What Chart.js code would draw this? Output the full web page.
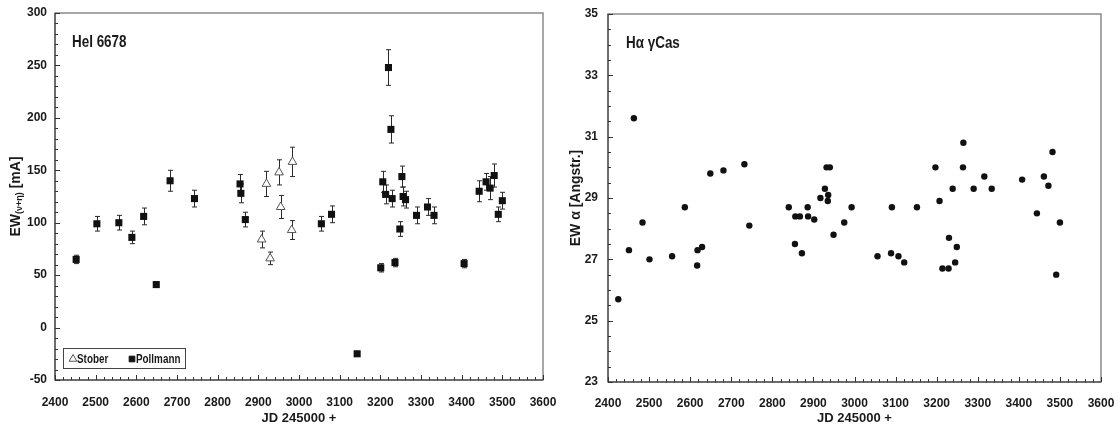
<!DOCTYPE html>
<html>
<head>
<meta charset="utf-8">
<title>HeI 6678 / H-alpha gamma Cas</title>
<script src="https://cdn.jsdelivr.net/npm/chart.js@4.4.1/dist/chart.umd.min.js"></script>
<style>
    body { margin: 0; background: #fff; }
    .panel { position: absolute; top: 0; width: 560px; height: 439px; }
</style>
</head>
<body>
<div class="panel" style="left:0"><canvas id="heChart"></canvas></div>
<div class="panel" style="left:560px"><canvas id="haChart"></canvas></div>
<script>
// HeI 6678 equivalent width, Pollmann series (JD - 2450000, mA, error)
var pollJD  = [2452, 2503, 2557, 2589, 2618, 2649, 2683, 2743, 2855, 2857, 2868, 3055, 3080, 3143,
               3201, 3206, 3213, 3220, 3226, 3229, 3236, 3248, 3253, 3256, 3262, 3289, 3316, 3332,
               3406, 3443, 3460, 3470, 3480, 3490, 3500];
var pollEW  = [65, 99, 100, 86, 106, 41, 140, 123, 137, 128, 103, 99, 108, -25,
               57, 139, 127, 248, 189, 123, 62, 94, 144, 125, 122, 107, 115, 107,
               61, 130, 139, 133, 145, 108, 121];
var pollErr = [4, 7, 7, 6, 8, 2, 10, 8, 9, 9, 7, 7, 8, 2,
               4, 10, 9, 17, 13, 8, 4, 7, 10, 9, 8, 8, 8, 8,
               4, 10, 8, 11, 11, 7, 8];

// HeI 6678, Stober series
var stobJD  = [2908, 2920, 2929, 2951, 2955, 2982, 2984];
var stobEW  = [84, 137, 66, 148, 115, 93, 158];
var stobErr = [8, 12, 6, 12, 11, 9, 14];

// H-alpha equivalent width, gamma Cas (Angstrom)
var haJD = [2425, 2451, 2463, 2484, 2501, 2556, 2587, 2617, 2618, 2629, 2649, 2681, 2732, 2744,
            2840, 2855, 2856, 2867, 2872, 2886, 2887, 2902, 2917, 2928, 2932, 2935, 2936, 2940,
            2949, 2975, 2993, 3056, 3089, 3091, 3107, 3121, 3152, 3197, 3207, 3214, 3229, 3230,
            3239, 3245, 3249, 3264, 3265, 3290, 3316, 3334, 3408, 3444, 3461, 3472, 3482, 3491, 3500];
var haEW = [25.7, 27.3, 31.6, 28.2, 27.0, 27.1, 28.7, 26.8, 27.3, 27.4, 29.8, 29.9, 30.1, 28.1,
            28.7, 27.5, 28.4, 28.4, 27.2, 28.7, 28.4, 28.3, 29.0, 29.3, 30.0, 28.9, 29.1, 30.0,
            27.8, 28.2, 28.7, 27.1, 27.2, 28.7, 27.1, 26.9, 28.7, 30.0, 28.9, 26.7, 26.7, 27.7,
            29.3, 26.9, 27.4, 30.0, 30.8, 29.3, 29.7, 29.3, 29.6, 28.5, 29.7, 29.4, 30.5, 26.5, 28.2];

// axis ranges: [min, max, major step, minor step]
var jdAxis = [2400, 3600, 100, 20];
var heAxis = [-50, 300, 50, 10];
var haAxis = [23, 35, 2, 0.5];

function points(xs, ys) {
    return xs.map(function (x, i) { return { x: x, y: ys[i] }; });
}

Chart.defaults.font.family = "'Liberation Sans', Arial, sans-serif";
Chart.defaults.font.size = 12;
Chart.defaults.font.weight = 'bold';
Chart.defaults.color = '#1a1a1a';

// draws text squeezed horizontally, like a narrow face
function narrowText(ctx, text, x, y, squeeze) {
    ctx.save();
    ctx.translate(x, y);
    ctx.scale(squeeze, 1);
    ctx.fillText(text, 0, 0);
    ctx.restore();
}

// plot frame plus the small inward tick marks
var framePlugin = {
    id: 'frame',
    afterDraw: function (chart, args, opts) {
        var ctx = chart.ctx, a = chart.chartArea;
        var xs = chart.scales.x, ys = chart.scales.y;
        ctx.save();
        ctx.strokeStyle = '#8a8a8a';
        ctx.lineWidth = 1.5;
        ctx.strokeRect(a.left, a.top, a.right - a.left, a.bottom - a.top);
        ctx.strokeStyle = '#333';
        ctx.lineWidth = 1;
        ctx.beginPath();
        ctx.moveTo(a.left, a.top); ctx.lineTo(a.left, a.bottom); ctx.lineTo(a.right, a.bottom);
        var n = Math.round((opts.x[1] - opts.x[0]) / opts.x[3]);
        var per = Math.round(opts.x[2] / opts.x[3]);
        for (var i = 0; i <= n; i++) {
            var px = Math.round(xs.getPixelForValue(opts.x[0] + i * opts.x[3])) + 0.5;
            ctx.moveTo(px, a.bottom);
            ctx.lineTo(px, a.bottom - (i % per === 0 ? 5 : 3));
        }
        n = Math.round((opts.y[1] - opts.y[0]) / opts.y[3]);
        per = Math.round(opts.y[2] / opts.y[3]);
        for (i = 0; i <= n; i++) {
            var py = Math.round(ys.getPixelForValue(opts.y[0] + i * opts.y[3])) + 0.5;
            ctx.moveTo(a.left, py);
            ctx.lineTo(a.left + (i % per === 0 ? 5 : 3), py);
        }
        ctx.stroke();
        ctx.restore();
    }
};

// vertical error bars with caps, taken from dataset.errors
var errorBarPlugin = {
    id: 'errorBars',
    beforeDatasetsDraw: function (chart) {
        var ctx = chart.ctx, ys = chart.scales.y;
        ctx.save();
        ctx.strokeStyle = '#2a2a2a';
        ctx.lineWidth = 1;
        chart.data.datasets.forEach(function (ds, i) {
            if (!ds.errors) return;
            chart.getDatasetMeta(i).data.forEach(function (pt, j) {
                var v = ds.data[j].y, e = ds.errors[j];
                var t = ys.getPixelForValue(v + e), b = ys.getPixelForValue(v - e);
                var x = Math.round(pt.x) + 0.5;
                ctx.beginPath();
                ctx.moveTo(x, t); ctx.lineTo(x, b);
                ctx.moveTo(x - 2.5, t); ctx.lineTo(x + 2.5, t);
                ctx.moveTo(x - 2.5, b); ctx.lineTo(x + 2.5, b);
                ctx.stroke();
            });
        });
        ctx.restore();
    }
};

// line name in the top left corner of the plot
var labelPlugin = {
    id: 'lineLabel',
    afterDraw: function (chart, args, opts) {
        var ctx = chart.ctx, a = chart.chartArea;
        ctx.save();
        ctx.font = "bold 16px 'Liberation Sans', Arial";
        ctx.fillStyle = '#1a1a1a';
        ctx.textBaseline = 'middle';
        narrowText(ctx, opts.text, a.left + opts.dx, a.top + 30, 0.84);
        ctx.restore();
    }
};

// y axis title, with an optional subscript part
var yTitlePlugin = {
    id: 'yTitle',
    afterDraw: function (chart, args, opts) {
        var ctx = chart.ctx, a = chart.chartArea;
        var big = "bold 14px 'Liberation Sans', Arial";
        var small = "bold 9px 'Liberation Sans', Arial";
        var parts = opts.parts;
        ctx.save();
        var total = 0;
        parts.forEach(function (p) { ctx.font = p[1] ? small : big; total += ctx.measureText(p[0]).width; });
        ctx.translate(15, (a.top + a.bottom) / 2);
        ctx.rotate(-Math.PI / 2);
        ctx.fillStyle = '#1a1a1a';
        ctx.textBaseline = 'alphabetic';
        var x = -total / 2;
        parts.forEach(function (p) {
            ctx.font = p[1] ? small : big;
            ctx.fillText(p[0], x, p[1] ? 7 : 5);
            x += ctx.measureText(p[0]).width;
        });
        ctx.restore();
    }
};

// boxed legend inside the lower left of the plot
var boxLegendPlugin = {
    id: 'boxLegend',
    afterDraw: function (chart) {
        var ctx = chart.ctx, a = chart.chartArea;
        var left = a.left + 8, top = a.bottom - 32, w = 122, h = 20;
        ctx.save();
        ctx.fillStyle = '#fff';
        ctx.fillRect(left, top, w, h);
        ctx.strokeStyle = '#444';
        ctx.lineWidth = 1;
        ctx.strokeRect(left + 0.5, top + 0.5, w, h);
        ctx.font = "bold 13px 'Liberation Sans', Arial";
        ctx.textBaseline = 'middle';
        var x = left + 10, cy = top + h / 2 + 1;
        chart.data.datasets.forEach(function (ds) {
            ctx.fillStyle = ds.backgroundColor;
            ctx.strokeStyle = ds.borderColor;
            ctx.lineWidth = 1;
            Chart.helpers.drawPoint(ctx, {
                pointStyle: ds.pointStyle, radius: ds.pointStyle === 'rect' ? 4 : 4.5, borderWidth: 1
            }, x, cy);
            ctx.fillStyle = '#1a1a1a';
            narrowText(ctx, ds.label, x + 4, cy, 0.76);
            x += 59;
        });
        ctx.restore();
    }
};

function axis(range, fitSize, isX, tickPad) {
    return {
        type: 'linear',
        min: range[0],
        max: range[1],
        grid: { display: false, drawTicks: false },
        border: { display: false },
        ticks: {
            stepSize: range[2],
            padding: tickPad,
            color: '#1a1a1a',
            callback: function (v) { return String(v); }
        },
        // fixed axis sizes; end labels may overhang the frame without shrinking it
        afterFit: function (scale) {
            if (isX) {
                scale.height = fitSize;
                scale.paddingLeft = 0;
                scale.paddingRight = 0;
            } else {
                scale.width = fitSize;
                scale.paddingTop = 0;
                scale.paddingBottom = 0;
            }
        }
    };
}

var heChart = new Chart(document.getElementById('heChart'), {
    type: 'scatter',
    data: {
        datasets: [{
            label: 'Stober',
            data: points(stobJD, stobEW),
            errors: stobErr,
            pointStyle: 'triangle',
            pointRadius: 5,
            backgroundColor: '#fff',
            borderColor: '#555',
            borderWidth: 1
        }, {
            label: 'Pollmann',
            data: points(pollJD, pollEW),
            errors: pollErr,
            pointStyle: 'rect',
            pointRadius: 5,
            backgroundColor: '#111',
            borderColor: '#111',
            borderWidth: 0
        }]
    },
    options: {
        animation: false,
        responsive: true,
        maintainAspectRatio: false,
        layout: { padding: { top: 13, right: 17, left: 0, bottom: 0 } },
        scales: {
            x: Object.assign(axis(jdAxis, 59, true, 15), {
                title: { display: true, text: 'JD 245000 +', padding: { top: 0, bottom: 13 },
                         font: { size: 13, weight: 'bold' } }
            }),
            y: axis(heAxis, 55, false, 8)
        },
        plugins: {
            legend: { display: false },
            tooltip: { enabled: false },
            frame: { x: jdAxis, y: heAxis },
            lineLabel: { text: 'HeI 6678', dx: 17 },
            yTitle: { parts: [['EW', false], ['(\u03BD+\u03B7)', true], [' [mA]', false]] }
        }
    },
    plugins: [errorBarPlugin, framePlugin, labelPlugin, yTitlePlugin, boxLegendPlugin]
});

var haChart = new Chart(document.getElementById('haChart'), {
    type: 'scatter',
    data: {
        datasets: [{
            label: 'H\u03B1 \u03B3Cas',
            data: points(haJD, haEW),
            pointStyle: 'circle',
            pointRadius: 3.2,
            backgroundColor: '#111',
            borderColor: '#111',
            borderWidth: 0
        }]
    },
    options: {
        animation: false,
        responsive: true,
        maintainAspectRatio: false,
        layout: { padding: { top: 14, right: 19, left: 0, bottom: 0 } },
        scales: {
            x: Object.assign(axis(jdAxis, 57, true, 14), {
                title: { display: true, text: 'JD 245000 +', padding: { top: 0, bottom: 13 },
                         font: { size: 13, weight: 'bold' } }
            }),
            y: axis(haAxis, 48, false, 10)
        },
        plugins: {
            legend: { display: false },
            tooltip: { enabled: false },
            frame: { x: jdAxis, y: haAxis },
            lineLabel: { text: 'H\u03B1 \u03B3Cas', dx: 18 },
            yTitle: { parts: [['EW \u03B1 [Angstr.]', false]] }
        }
    },
    plugins: [framePlugin, labelPlugin, yTitlePlugin]
});
</script>
</body>
</html>
